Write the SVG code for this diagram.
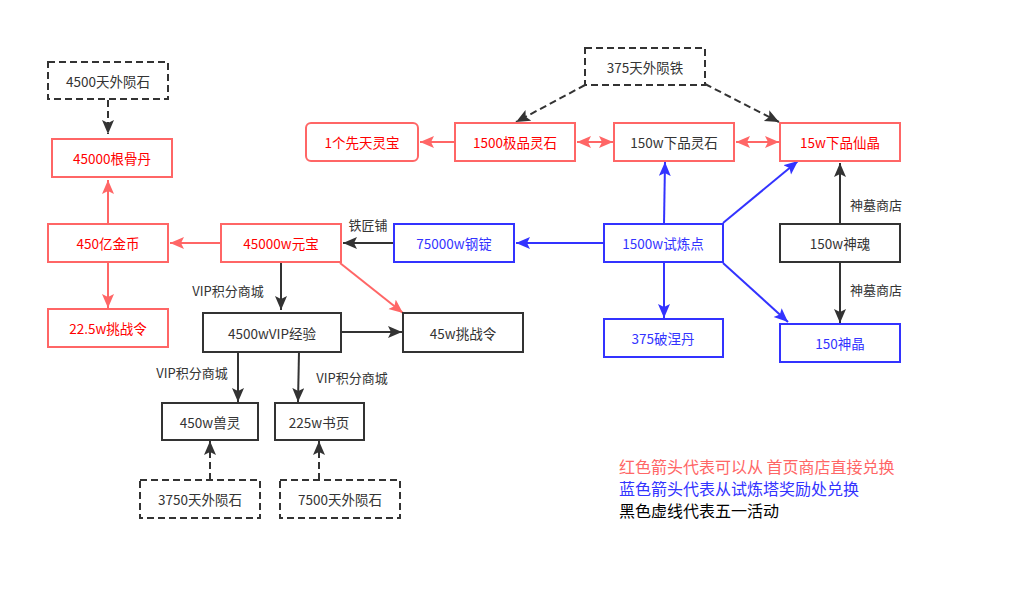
<svg xmlns="http://www.w3.org/2000/svg" width="1018" height="599" viewBox="0 0 1018 599">
<style>
text{font-family:"Noto Sans CJK SC","Noto Sans",sans-serif;font-size:13.5px;text-anchor:middle;dominant-baseline:central}
.box{fill:#fff;stroke-width:2}
.r{stroke:#FF6666}.b{stroke:#3333FF}.k{stroke:#333333}
.d{stroke-dasharray:7 4}
.tr{fill:#FF0000}.tb{fill:#3333FF}.tk{fill:#333333}
.e{fill:none;stroke-width:2}
.lbl{fill:#333333;font-size:13px}
.leg{font-size:16px;text-anchor:start;dominant-baseline:auto}
</style>
<defs>
<marker id="ar" markerUnits="userSpaceOnUse" markerWidth="16" markerHeight="14" refX="14" refY="6" orient="auto-start-reverse"><path d="M0,0 L14,6 L0,12 L3,6 Z" fill="#FF6666"/></marker>
<marker id="ab" markerUnits="userSpaceOnUse" markerWidth="16" markerHeight="14" refX="14" refY="6" orient="auto-start-reverse"><path d="M0,0 L14,6 L0,12 L3,6 Z" fill="#3333FF"/></marker>
<marker id="ak" markerUnits="userSpaceOnUse" markerWidth="16" markerHeight="14" refX="14" refY="6" orient="auto-start-reverse"><path d="M0,0 L14,6 L0,12 L3,6 Z" fill="#333333"/></marker>
</defs>
<rect width="1018" height="599" fill="#fff"/>
<g id="connectors">
<line class="e k d" x1="108" y1="100" x2="108" y2="134" marker-end="url(#ak)"/>
<line class="e r" x1="108" y1="224" x2="108" y2="180" marker-end="url(#ar)"/>
<line class="e r" x1="108" y1="262" x2="108" y2="308" marker-end="url(#ar)"/>
<line class="e r" x1="221" y1="243" x2="170" y2="243" marker-end="url(#ar)"/>
<line class="e r" x1="340" y1="263" x2="403" y2="313" marker-end="url(#ar)"/>
<line class="e k" x1="281" y1="262" x2="281" y2="310" marker-end="url(#ak)"/>
<line class="e k" x1="394" y1="243" x2="343" y2="243" marker-end="url(#ak)"/>
<line class="e b" x1="604" y1="243" x2="516" y2="243" marker-end="url(#ab)"/>
<line class="e b" x1="664" y1="224" x2="665" y2="162" marker-end="url(#ab)"/>
<line class="e b" x1="723" y1="223" x2="798" y2="161" marker-end="url(#ab)"/>
<line class="e b" x1="664" y1="262" x2="664" y2="318" marker-end="url(#ab)"/>
<line class="e b" x1="723" y1="263" x2="788" y2="322" marker-end="url(#ab)"/>
<line class="e k" x1="840" y1="224" x2="840" y2="163" marker-end="url(#ak)"/>
<line class="e k" x1="840" y1="262" x2="840" y2="323" marker-end="url(#ak)"/>
<line class="e k d" x1="585" y1="85" x2="516" y2="122" marker-end="url(#ak)"/>
<line class="e k d" x1="705" y1="84" x2="779" y2="122" marker-end="url(#ak)"/>
<line class="e r" x1="455" y1="142" x2="420" y2="142" marker-end="url(#ar)"/>
<line class="e r" x1="577" y1="142" x2="613" y2="142" marker-start="url(#ar)" marker-end="url(#ar)"/>
<line class="e r" x1="736" y1="142" x2="779" y2="142" marker-start="url(#ar)" marker-end="url(#ar)"/>
<line class="e k" x1="341" y1="332" x2="402" y2="332" marker-end="url(#ak)"/>
<line class="e k" x1="238" y1="352" x2="238" y2="402" marker-end="url(#ak)"/>
<line class="e k" x1="299" y1="352" x2="298" y2="402" marker-end="url(#ak)"/>
<line class="e k d" x1="210" y1="480" x2="210" y2="441" marker-end="url(#ak)"/>
<line class="e k d" x1="319" y1="480" x2="319" y2="441" marker-end="url(#ak)"/>
<text class="lbl" x="228" y="290">VIP积分商城</text>
<text class="lbl" x="368" y="224">铁匠铺</text>
<text class="lbl" x="876" y="204">神墓商店</text>
<text class="lbl" x="876" y="289">神墓商店</text>
<text class="lbl" x="192" y="372">VIP积分商城</text>
<text class="lbl" x="352" y="377">VIP积分商城</text>
</g>
<g id="n1"><rect class="box k d" x="48" y="62" width="120" height="37"/><text class="tk" x="108" y="81">4500天外陨石</text></g>
<g id="n2"><rect class="box r" x="52" y="139" width="120" height="38"/><text class="tr" x="112" y="158">45000根骨丹</text></g>
<g id="n3"><rect class="box r" x="48" y="224" width="120" height="38"/><text class="tr" x="108" y="243">450亿金币</text></g>
<g id="n4"><rect class="box r" x="48" y="309" width="120" height="38"/><text class="tr" x="108" y="328">22.5w挑战令</text></g>
<g id="n5"><rect class="box r" x="221" y="224" width="120" height="38"/><text class="tr" x="281" y="243">45000w元宝</text></g>
<g id="n6"><rect class="box r" x="306" y="123" width="112" height="38" rx="5"/><text class="tr" x="362" y="142">1个先天灵宝</text></g>
<g id="n7"><rect class="box r" x="455" y="123" width="120" height="38"/><text class="tr" x="515" y="142">1500极品灵石</text></g>
<g id="n8"><rect class="box r" x="614" y="123" width="120" height="38"/><text class="tk" x="674" y="142">150w下品灵石</text></g>
<g id="n9"><rect class="box r" x="780" y="123" width="120" height="38"/><text class="tr" x="840" y="142">15w下品仙晶</text></g>
<g id="n10"><rect class="box k d" x="585" y="48" width="120" height="37"/><text class="tk" x="645" y="67">375天外陨铁</text></g>
<g id="n11"><rect class="box b" x="394" y="224" width="120" height="38"/><text class="tb" x="454" y="243">75000w钢锭</text></g>
<g id="n12"><rect class="box b" x="604" y="224" width="119" height="38"/><text class="tb" x="663" y="243">1500w试炼点</text></g>
<g id="n13"><rect class="box b" x="604" y="319" width="119" height="38"/><text class="tb" x="663" y="338">375破涅丹</text></g>
<g id="n14"><rect class="box k" x="780" y="224" width="120" height="38"/><text class="tk" x="840" y="243">150w神魂</text></g>
<g id="n15"><rect class="box b" x="780" y="324" width="120" height="38"/><text class="tb" x="840" y="343">150神晶</text></g>
<g id="n16"><rect class="box k" x="203" y="313" width="138" height="39"/><text class="tk" x="272" y="333">4500wVIP经验</text></g>
<g id="n17"><rect class="box k" x="403" y="313" width="120" height="39"/><text class="tk" x="463" y="333">45w挑战令</text></g>
<g id="n18"><rect class="box k" x="162" y="403" width="96" height="37"/><text class="tk" x="210" y="422">450w兽灵</text></g>
<g id="n19"><rect class="box k" x="275" y="403" width="89" height="37"/><text class="tk" x="319" y="422">225w书页</text></g>
<g id="n20"><rect class="box k d" x="140" y="480" width="120" height="38"/><text class="tk" x="200" y="499">3750天外陨石</text></g>
<g id="n21"><rect class="box k d" x="280" y="480" width="120" height="38"/><text class="tk" x="340" y="499">7500天外陨石</text></g>
<g id="legend">
<text class="leg" x="619" y="473" fill="#FF6666">红色箭头代表可以从 首页商店直接兑换</text>
<text class="leg" x="619" y="495" fill="#3333FF">蓝色箭头代表从试炼塔奖励处兑换</text>
<text class="leg" x="619" y="517" fill="#000000">黑色虚线代表五一活动</text>
</g>
</svg>
